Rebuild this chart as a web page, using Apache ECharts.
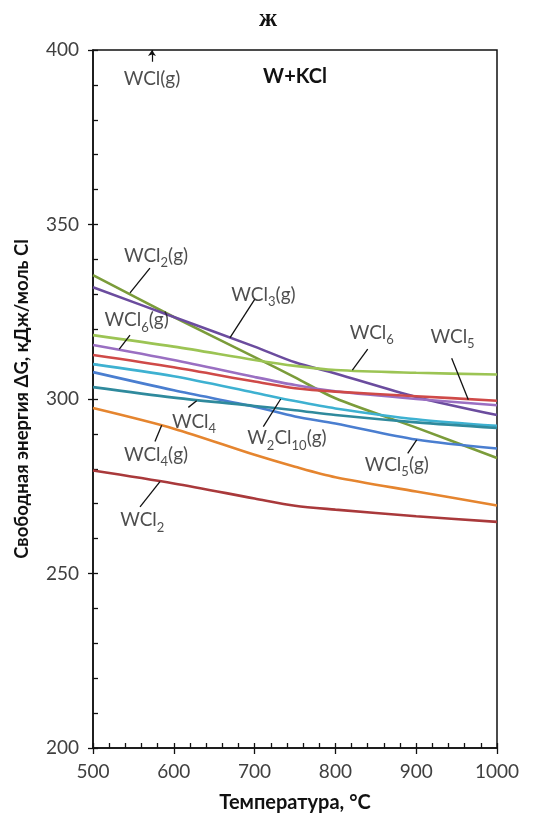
<!DOCTYPE html>
<html>
<head>
<meta charset="utf-8">
<script src="https://cdn.jsdelivr.net/npm/echarts@6/dist/echarts.min.js"></script>
<style>
  html, body { margin: 0; padding: 0; background: #fff; }
  #chart { width: 536px; height: 820px; }
</style>
</head>
<body>
<div id="chart"></div>
<script>
// Temperatures (°C) at which the free energies are tabulated
const temps = [500, 600, 700, 750, 800, 900, 1000];

// Free energy ΔG, kJ per mol Cl, for each tungsten chloride
const wcl2g   = [335.5, 323.5, 312.0, 306.2, 300.2, 291.8, 283.1];
const wcl3g   = [332.0, 323.5, 315.0, 310.5, 307.3, 300.6, 295.4];
const wcl6    = [318.3, 315.0, 311.2, 309.5, 308.3, 307.5, 307.0];
const wcl6g   = [315.5, 311.2, 306.3, 304.0, 302.2, 300.0, 298.2];
const wcl5    = [312.6, 309.1, 305.0, 303.1, 302.1, 300.8, 299.5];
const w2cl10g = [310.0, 306.5, 301.8, 299.4, 297.3, 294.2, 292.3];
const wcl5g   = [307.7, 302.5, 297.8, 295.0, 293.0, 288.4, 285.8];
const wcl4    = [303.4, 300.4, 298.0, 296.8, 295.4, 293.3, 291.7];
const wcl4g   = [297.4, 291.5, 284.0, 280.6, 277.6, 273.5, 269.5];
const wcl2    = [279.5, 275.8, 271.5, 269.4, 268.3, 266.4, 264.8];

// Axis ticks
const xTicks = { min: 500, max: 1000, step: 100 };
const yTicks = { min: 200, max: 400, step: 50 };

// Curve names (rich text, subscripts in {s|...})
const curveNames  = ['WCl{s|2}(g)', 'WCl{s|3}(g)', 'WCl{s|6}', 'WCl{s|6}(g)', 'WCl{s|5}',
                     'W{s|2}Cl{s|10}(g)', 'WCl{s|5}(g)', 'WCl{s|4}', 'WCl{s|4}(g)', 'WCl{s|2}'];
// Label anchor (T, ΔG) for each name, plus WCl(g) which lies above the plotted range
const labelT = [578, 711, 554, 845, 945, 740, 876, 578, 625, 561, 573];
const labelG = [340.7, 329.5, 322.1, 318.6, 317.5, 288.3, 280.8, 283.7, 293.1, 264.8, 391.4];
const labelText = ['WCl{s|2}(g)', 'WCl{s|3}(g)', 'WCl{s|6}(g)', 'WCl{s|6}', 'WCl{s|5}',
                   'W{s|2}Cl{s|10}(g)', 'WCl{s|5}(g)', 'WCl{s|4}(g)', 'WCl{s|4}', 'WCl{s|2}', 'WCl(g)'];
// Leader lines from a label to its curve: [T1, G1, T2, G2]
const leaders = [
  [570.5, 337.5, 545.8, 330.4],
  [700.5, 328.7, 669.6, 317.6],
  [545.8, 318.3, 532.5, 314.3],
  [840.0, 314.3, 821.0, 308.3],
  [943.9, 311.7, 964.5, 299.8],
  [710.8, 292.1, 732.3, 300.0],
  [889.5, 284.4, 900.6, 288.3],
  [576.7, 287.8, 585.0, 292.5],
  [618.0, 297.6, 628.3, 299.5],
  [558.2, 269.1, 582.9, 276.3]
];
// Arrow showing WCl(g) is off the top of the scale
const offScaleArrow = [573, 396.6, 573, 400];

const seriesData = [wcl2g, wcl3g, wcl6, wcl6g, wcl5, w2cl10g, wcl5g, wcl4, wcl4g, wcl2];
const colors = ['#7b9c3a', '#6b4c9e', '#9cc454', '#9a6fc2', '#cf4a48',
                '#3eb1d1', '#4a7ed0', '#2f8a9d', '#e5852f', '#a9393b'];

const FONT = 'Lato';
const rich = {
  n: { fontFamily: FONT, fontSize: 19, color: '#222', lineHeight: 22, verticalAlign: 'top' },
  s: { fontFamily: FONT, fontSize: 13, color: '#222', lineHeight: 14, verticalAlign: 'top', padding: [10, 0, 0, 0] }
};
function toRich(t) {
  // wrap plain runs into {n|...} tokens
  return t.split(/(\{s\|[^}]*\})/).filter(x => x).map(x => x.startsWith('{s|') ? x : '{n|' + x + '}').join('');
}

const chart = echarts.init(document.getElementById('chart'), null, { renderer: 'canvas' });

const lineSeries = seriesData.map((vals, i) => ({
  type: 'line',
  name: curveNames[i],
  data: temps.map((t, k) => [t, vals[k]]),
  smooth: 0.3,
  showSymbol: false,
  lineStyle: { width: 2.6, color: colors[i] },
  itemStyle: { color: colors[i] },
  z: 3
}));

const leaderSeries = {
  type: 'lines',
  coordinateSystem: 'cartesian2d',
  data: leaders.map(l => ({ coords: [[l[0], l[1]], [l[2], l[3]]] })),
  lineStyle: { color: '#111', width: 1.3, opacity: 1 },
  symbol: 'none',
  z: 4
};

const arrowSeries = {
  type: 'lines',
  coordinateSystem: 'cartesian2d',
  data: [{ coords: [[offScaleArrow[0], offScaleArrow[1]], [offScaleArrow[2], offScaleArrow[3]]] }],
  lineStyle: { color: '#111', width: 1.2, opacity: 1 },
  symbol: ['none', 'arrow'],
  symbolSize: 6,
  z: 4
};

const labelSeries = {
  type: 'scatter',
  symbolSize: 0,
  data: labelT.map((t, i) => ({ value: [t, labelG[i]], name: labelText[i] })),
  label: {
    show: true,
    position: 'inside',
    formatter: p => toRich(p.name),
    rich: rich
  },
  silent: true,
  z: 5
};

chart.setOption({
  animation: false,
  backgroundColor: '#fff',
  title: [
    { text: 'ж', left: 'center', top: 2,
      textStyle: { fontFamily: 'Liberation Serif', fontSize: 25, fontWeight: 'bold', color: '#111' } },
    { text: 'W+KCl', left: 290, top: 62, textAlign: 'center',
      textStyle: { fontFamily: FONT, fontSize: 20, fontWeight: 'bold', color: '#111' } }
  ],
  grid: { left: 93, right: 39, top: 50, bottom: 72, show: true, borderColor: '#111', borderWidth: 1.5 },
  xAxis: [
    {
      type: 'value', min: xTicks.min, max: xTicks.max, interval: xTicks.step,
      name: 'Температура, °C', nameLocation: 'middle', nameGap: 45,
      nameTextStyle: { fontFamily: FONT, fontSize: 20, fontWeight: 'bold', color: '#111' },
      axisLine: { show: true, lineStyle: { color: '#111', width: 1.5 } },
      axisTick: { show: true, inside: true, length: 5, lineStyle: { color: '#111', width: 1.3 } },
      minorTick: { show: true, splitNumber: 5, length: 5, lineStyle: { color: '#111', width: 1.3 } },
      axisLabel: { fontFamily: FONT, fontSize: 19, color: '#404040', margin: 14, formatter: v => String(v) },
      splitLine: { show: false }
    },
    {
      type: 'value', position: 'bottom', offset: 0, min: xTicks.min, max: xTicks.max, interval: xTicks.step,
      axisLine: { show: false },
      axisTick: { show: true, inside: false, length: 6, lineStyle: { color: '#111', width: 1.3 } },
      axisLabel: { show: false },
      splitLine: { show: false }
    }
  ],
  yAxis: [
    {
      type: 'value', min: yTicks.min, max: yTicks.max, interval: yTicks.step,
      name: 'Свободная энергия ΔG, кДж/моль Cl', nameLocation: 'middle', nameGap: 61,
      nameTextStyle: { fontFamily: FONT, fontSize: 18.5, fontWeight: 'bold', color: '#111' },
      axisLine: { show: true, lineStyle: { color: '#111', width: 1.5 } },
      axisTick: { show: true, inside: true, length: 5, lineStyle: { color: '#111', width: 1.3 } },
      minorTick: { show: true, splitNumber: 5, length: 5, lineStyle: { color: '#111', width: 1.3 } },
      axisLabel: { fontFamily: FONT, fontSize: 19, color: '#404040', margin: 14, formatter: v => String(v) },
      splitLine: { show: false }
    },
    {
      type: 'value', position: 'left', offset: 0, min: yTicks.min, max: yTicks.max, interval: yTicks.step,
      axisLine: { show: false },
      axisTick: { show: true, inside: false, length: 5, lineStyle: { color: '#111', width: 1.3 } },
      axisLabel: { show: false },
      splitLine: { show: false }
    }
  ],
  series: [...lineSeries, leaderSeries, arrowSeries, labelSeries]
});
</script>
</body>
</html>
